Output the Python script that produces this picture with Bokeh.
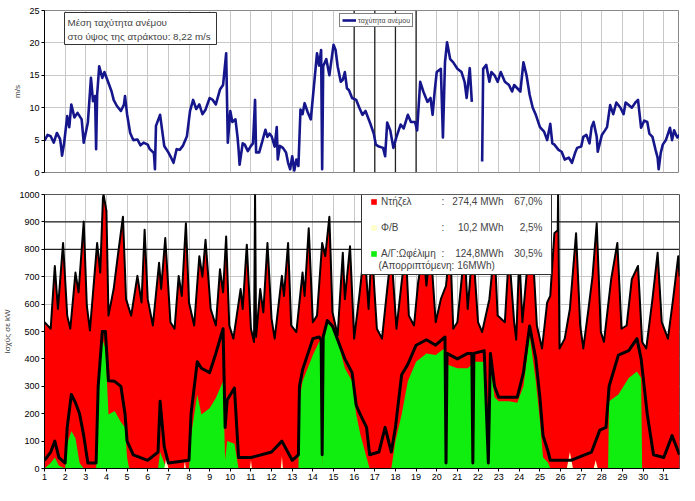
from bokeh.plotting import figure
from bokeh.layouts import column
from bokeh.models import Legend, LegendItem, Label, BoxAnnotation, Span, FixedTicker
from bokeh.embed import file_html
from bokeh.resources import INLINE

FONT = "Liberation Sans"
nan = float("nan")

# ---------------- data ----------------
day_ticks = list(range(1, 32))
speed_ticks = [0, 5, 10, 15, 20, 25]
power_ticks = list(range(0, 1001, 100))
marker_days = [16, 17, 18, 19]
ref_levels_kw = [800, 900]

wind_day = [1.0, 1.15, 1.3, 1.45, 1.6, 1.75, 1.8, 1.85, 1.95, 2.1, 2.2, 2.3, 2.45, 2.6, 2.8, 2.9,
            3.1, 3.25, 3.35, 3.45, 3.5, 3.55, 3.65, 3.8, 3.9, 4.1, 4.25, 4.35, 4.5, 4.7, 4.85, 4.9,
            5.0, 5.15, 5.3, 5.5, 5.65, 5.8, 6.0, 6.1, 6.3, 6.35, 6.4, 6.6, 6.7, 6.8, 7.0, 7.1,
            7.25, 7.4, 7.55, 7.7, 7.9, 8.05, 8.2, 8.35, 8.5, 8.65, 8.8, 9.0, 9.15, 9.3, 9.5, 9.65,
            9.8, 9.88, 9.95, 10.0, 10.1, 10.25, 10.35, 10.4, 10.45, 10.6, 10.7, 10.85, 11.0, 11.1,
            11.2, 11.25, 11.4, 11.55, 11.7, 11.8, 11.9, 12.0, 12.15, 12.25, 12.3, 12.4, 12.55, 12.7,
            12.8, 12.9, 13.0, 13.1, 13.2, 13.3, 13.4, 13.5, 13.6, 13.75, 13.9, 14.05, 14.2, 14.3,
            14.4, 14.45, 14.5, 14.65, 14.8, 15.0, 15.1, 15.2, 15.35, 15.45, 15.55, 15.65, 15.75,
            15.9, 16.1, 16.25, 16.4, 16.55, 16.8, 16.95, 17.05, 17.2, 17.4, 17.5, 17.6, 17.75, 17.9,
            18.05, 18.25, 18.4, 18.6, 18.75, 18.95, 19.05, 19.2, 19.35, 19.55, 19.7, 19.8, 19.9,
            20.0, 20.2, 20.3, 20.4, 20.5, 20.65, 20.8, 21.0, 21.2, 21.35, 21.45, 21.6, 21.7, 21.9,
            22.2, 22.25, 22.4, 22.55, 22.65, 22.8, 22.95, 23.1, 23.3, 23.5, 23.65, 23.75, 23.9,
            24.05, 24.2, 24.35, 24.5, 24.65, 24.8, 25.0, 25.2, 25.35, 25.5, 25.6, 25.7, 25.9, 26.05,
            26.2, 26.4, 26.55, 26.7, 26.8, 27.0, 27.1, 27.25, 27.4, 27.5, 27.6, 27.75, 27.8, 28.0,
            28.15, 28.25, 28.4, 28.55, 28.7, 28.9, 29.05, 29.15, 29.3, 29.45, 29.65, 29.75, 29.9,
            30.05, 30.2, 30.3, 30.45, 30.6, 30.7, 30.75, 30.85, 30.95, 31.1, 31.3, 31.4, 31.5,
            31.65, 31.76]
wind_speed = [4.9, 5.8, 5.6, 4.6, 6.1, 5.2, 4.1, 2.6, 4.5, 8.7, 7.0, 10.5, 8.5, 9.2, 8.2, 4.6,
              7.7, 14.6, 11.0, 11.8, 3.6, 12.0, 16.4, 14.6, 15.5, 13.8, 12.5, 11.2, 10.3, 9.5, 10.5, 11.8,
              9.0, 6.1, 5.0, 5.1, 4.2, 4.6, 4.3, 3.6, 3.0, 0.5, 7.2, 8.9, 6.5, 4.1, 3.1, 2.5,
              1.5, 3.6, 3.5, 4.1, 5.6, 9.5, 11.2, 9.8, 10.5, 9.0, 9.7, 11.5, 11.2, 10.5, 12.8, 13.5,
              18.4, 4.6, 7.5, 9.5, 7.8, 8.2, 5.5, 3.6, 1.2, 4.5, 4.3, 3.3, 4.1, 4.5,
              11.2, 3.1, 3.1, 4.8, 6.6, 5.5, 6.0, 5.6, 4.0, 7.0, 2.0, 4.1, 3.8, 3.1,
              1.5, 0.5, 2.5, 0.3, 2.0, 1.0, 9.7, 9.0, 10.7, 9.3, 8.2, 13.3, 18.4, 16.5,
              18.9, 0.5, 16.4, 17.5, 15.0, 19.7, 18.9, 16.4, 14.0, 14.3, 15.5, 13.0, 12.7,
              11.5, 11.2, 10.0, 8.9, 9.5, 7.4, 6.0, 4.3, 4.0, 3.8, 2.5, 7.7, 6.5, 3.8,
              5.5, 7.4, 6.8, 8.9, 7.8, 7.8, 6.5, 14.0, 12.5, 10.9, 11.5, 8.9, 12.5,
              15.5, 16.0, 5.4, 17.0, 20.1, 17.5, 17.0, 16.0, 15.5, 14.0, 11.5, 16.1, 10.9, nan,
              1.7, 16.0, 16.6, 14.0, 15.5, 15.0, 14.0, 15.5, 14.0, 13.5, 12.5, 13.5, 13.0,
              12.5, 17.0, 15.0, 12.0, 10.0, 8.9, 7.0, 6.3, 5.0, 7.5, 4.5, 4.3, 3.5, 3.2,
              2.0, 2.3, 1.5, 3.0, 3.8, 4.0, 5.5, 5.8, 4.5, 7.0, 7.8, 5.5, 3.2, 5.8,
              6.5, 7.0, 10.4, 9.0, 10.8, 10.0, 9.0, 10.8, 10.4, 10.0, 10.9, 11.2, 6.9,
              8.0, 7.8, 6.0, 5.5, 3.5, 2.3, 0.5, 3.0, 4.3, 5.0, 6.9, 5.0, 6.5,
              5.4, 5.8]

load_day = [1.0, 1.3, 1.5, 1.65, 1.9, 2.1, 2.25, 2.5, 2.65, 2.9, 3.05, 3.2, 3.55, 3.7, 3.83, 3.86,
            4.0, 4.1, 4.35, 4.55, 4.8, 4.95, 5.2, 5.5, 5.7, 5.85, 6.0, 6.25, 6.55, 6.65, 6.85, 7.1,
            7.3, 7.5, 7.65, 7.85, 8.0, 8.25, 8.5, 8.65, 8.8, 9.05, 9.3, 9.5, 9.65, 9.8, 9.95, 10.15,
            10.5, 10.6, 10.8, 11.0, 11.15, 11.2, 11.25, 11.45, 11.6, 11.8, 12.0, 12.15, 12.5, 12.6,
            12.8, 12.95, 13.2, 13.5, 13.6, 13.8, 14.0, 14.2, 14.45, 14.6, 14.8, 14.95, 15.2, 15.45,
            15.55, 15.8, 16.0, 16.25, 16.5, 16.7, 16.85, 17.1, 17.35, 17.6, 17.8, 18.05, 18.3, 18.5,
            18.65, 18.9, 19.1, 19.35, 19.5, 19.7, 19.95, 20.2, 20.45, 20.65, 20.8, 21.0, 21.35, 21.5,
            21.75, 22.0, 22.2, 22.55, 22.8, 22.95, 23.3, 23.5, 23.75, 23.85, 24.0, 24.15, 24.45, 24.7,
            24.85, 25.1, 25.35, 25.5, 25.7, 25.86, 25.88, 25.95, 26.2, 26.45, 26.75, 26.95, 27.1,
            27.35, 27.55, 27.75, 27.95, 28.1, 28.45, 28.75, 28.95, 29.2, 29.45, 29.75, 29.95, 30.15,
            30.45, 30.7, 30.9, 31.2, 31.45, 31.7, 31.76]
load_kw = [534, 510, 739, 582, 823, 558, 510, 715, 643, 901, 594, 504, 823, 715, 986, 1000,
           940, 558, 655, 775, 919, 618, 558, 703, 606, 871, 618, 522, 751, 655, 841, 534,
           510, 703, 630, 895, 606, 522, 775, 700, 835, 582, 522, 727, 643, 847, 522, 474,
           655, 582, 817, 510, 462, 1000, 480, 655, 570, 823, 546, 474, 703, 630,
           823, 522, 498, 715, 630, 877, 534, 558, 823, 775, 919, 570, 486, 787,
           618, 811, 474, 630, 800, 582, 810, 510, 474, 655, 790, 510, 679, 800,
           558, 522, 679, 800, 667, 810, 534, 618, 667, 820, 510, 534, 800, 582,
           815, 534, 498, 618, 805, 558, 534, 790, 534, 470, 780, 534, 790, 727,
           522, 438, 606, 630, 859, 870, 1000, 438, 474, 582, 859, 522, 438,
           582, 703, 895, 498, 462, 691, 823, 510, 522, 691, 739, 462, 438,
           618, 787, 534, 474, 618, 775, 700]

useful_day = [1.0, 1.3, 1.5, 1.7, 2.0, 2.1, 2.3, 2.5, 2.7, 2.9, 3.5, 3.6, 3.8, 3.95, 4.1, 4.4,
              4.7, 4.9, 5.0, 5.1, 6.5, 6.6, 6.8, 6.9, 8.0, 8.1, 8.4, 8.6, 9.0, 9.3, 9.65, 9.75,
              9.85, 10.2, 10.4, 13.3, 13.35, 13.5, 14.0, 14.3, 14.4, 14.45, 14.5, 14.7, 14.95, 15.3,
              15.55, 15.9, 16.1, 16.3, 16.6, 16.75, 17.8, 18.0, 18.3, 18.6, 19.0, 19.5, 19.95, 20.4,
              20.45, 20.5, 21.0, 21.5, 21.7, 21.75, 21.8, 22.3, 22.5, 22.6, 22.8, 23.0, 23.5, 23.9,
              24.2, 24.5, 24.8, 25.0, 25.15, 25.4, 25.5, 28.3, 28.35, 28.8, 29.3, 29.7, 29.9, 29.95,
              31.76]
useful_kw = [0, 20, 40, 10, 0, 90, 137, 110, 20, 0, 0, 250, 474, 438, 197, 210,
             170, 150, 40, 0, 0, 60, 20, 0, 0, 120, 270, 197, 220, 257, 318, 30,
             100, 90, 0, 0, 250, 318, 414, 462, 470, 0, 480, 534, 510, 438,
             366, 318, 197, 125, 40, 0, 0, 100, 197, 318, 390, 420, 414, 440,
             0, 380, 366, 366, 380, 0, 390, 390, 0, 380, 260, 245, 245, 240,
             300, 486, 318, 173, 41, 20, 0, 0, 245, 270, 330, 354, 330, 0,
             0]

avail_day = [1.0, 1.3, 1.5, 1.7, 2.0, 2.1, 2.3, 2.5, 2.7, 2.9, 3.1, 3.5, 3.6, 3.8, 3.95, 4.1,
             4.4, 4.7, 4.9, 5.0, 5.3, 6.0, 6.5, 6.6, 6.8, 7.0, 8.0, 8.1, 8.4, 8.6, 9.0, 9.3,
             9.65, 9.75, 9.85, 10.2, 10.4, 11.0, 12.0, 12.5, 13.0, 13.3, 13.35, 13.5, 14.0, 14.3,
             14.4, 14.45, 14.5, 14.7, 14.95, 15.3, 15.55, 15.9, 16.1, 16.3, 16.6, 16.75, 17.2, 17.5,
             17.8, 18.0, 18.3, 18.6, 19.0, 19.5, 19.95, 20.4, 20.45, 20.5, 21.0, 21.5, 21.7, 21.75,
             21.8, 22.3, 22.5, 22.6, 22.8, 23.0, 23.5, 23.9, 24.2, 24.5, 24.8, 25.0, 25.15, 25.4,
             25.5, 26.5, 27.5, 27.9, 28.2, 28.35, 28.8, 29.3, 29.7, 29.9, 30.2, 30.5, 31.0, 31.4,
             31.76]
avail_kw = [30, 60, 100, 40, 20, 150, 270, 240, 200, 120, 20, 20, 300, 500, 500, 320,
            318, 300, 200, 100, 50, 30, 60, 245, 80, 20, 30, 200, 390, 366, 350, 420,
            510, 150, 250, 294, 40, 40, 60, 100, 30, 50, 300, 360, 474, 480,
            470, 50, 480, 540, 520, 450, 400, 350, 230, 197, 150, 50, 60, 150,
            60, 150, 342, 380, 450, 470, 450, 480, 20, 420, 400, 420, 420, 20,
            420, 430, 20, 420, 300, 260, 260, 260, 350, 520, 400, 257, 120, 60,
            30, 30, 60, 140, 150, 300, 414, 430, 474, 400, 197, 50, 40, 120,
            50]

pv_day = [6.8, 6.9, 7.0, 7.75, 7.8, 7.85, 10.95, 11.0, 11.05, 12.45, 12.5, 12.55,
          26.3, 26.45, 26.6, 27.6, 27.7, 27.8]
pv_kw = [0, 40, 0, 0, 30, 0, 0, 30, 0, 0, 45, 0,
         0, 60, 0, 0, 30, 0]

# ---------------- figures ----------------
X_RANGE = (1, 31.76)
GRID = "#C8C8C8"
LEG_FS = "10px"


def style_axes(p):
    for ax in p.axis:
        ax.axis_line_color = "black"
        ax.major_tick_line_color = "black"
        ax.minor_tick_line_color = None
        ax.major_tick_out = 3
        ax.major_tick_in = 0
        ax.major_label_standoff = 2
        ax.major_label_text_font = FONT
        ax.major_label_text_font_size = "9px"
        ax.major_label_text_color = "black"
        ax.axis_label_text_font = FONT
        ax.axis_label_text_font_size = "8px"
        ax.axis_label_text_font_style = "normal"
        ax.axis_label_standoff = 4
    p.xgrid.grid_line_color = GRID
    p.ygrid.grid_line_color = GRID


p1 = figure(frame_width=635, frame_height=162, min_border_left=42, min_border_right=2,
            min_border_top=10, min_border_bottom=5, x_range=X_RANGE, y_range=(0, 25),
            output_backend="svg", toolbar_location=None)
p1.xaxis.ticker = FixedTicker(ticks=day_ticks)
p1.yaxis.ticker = FixedTicker(ticks=speed_ticks)
p1.yaxis.axis_label = "m/s"
style_axes(p1)
p1.xaxis.visible = False
p1.outline_line_color = "#888888"

for d in marker_days:
    p1.add_layout(Span(location=d, dimension="height", line_color="#222222",
                       line_width=1.3, level="underlay"))

r_wind = p1.line(wind_day, wind_speed, line_color="#16168C", line_width=2.6,
                 line_join="round")

p1.add_layout(BoxAnnotation(left=20, right=172, top=160, bottom=128,
                            left_units="screen", right_units="screen",
                            top_units="screen", bottom_units="screen",
                            fill_color="white", fill_alpha=1,
                            line_color="#333333", line_alpha=1, line_width=1))
p1.add_layout(Label(x=23, y=150, x_units="screen", y_units="screen",
                    text="Μέση ταχύτητα ανέμου", text_font=FONT,
                    text_font_size="9.8px", text_baseline="middle"))
p1.add_layout(Label(x=23, y=136, x_units="screen", y_units="screen",
                    text="στο ύψος της ατράκτου: 8,22 m/s", text_font=FONT,
                    text_font_size="9.8px", text_baseline="middle"))

leg1 = Legend(items=[LegendItem(label="ταχύτητα ανέμου", renderers=[r_wind])],
              location=(295, 145), padding=2, spacing=0, margin=0,
              glyph_width=14, glyph_height=8, label_height=8, label_standoff=2,
              label_text_font=FONT, label_text_font_size="7px",
              border_line_color="black", border_line_width=1,
              background_fill_color="white", background_fill_alpha=1)
p1.add_layout(leg1)

p2 = figure(frame_width=635, frame_height=274, min_border_left=42, min_border_right=2,
            min_border_top=17, min_border_bottom=0, x_range=X_RANGE, y_range=(0, 1000),
            output_backend="svg", toolbar_location=None)
p2.xaxis.ticker = FixedTicker(ticks=day_ticks)
p2.yaxis.ticker = FixedTicker(ticks=power_ticks)
p2.yaxis.axis_label = "Ισχύς σε kW"
style_axes(p2)
p2.outline_line_color = "#555555"

for lvl in ref_levels_kw:
    p2.add_layout(Span(location=lvl, dimension="width", line_color="#222222",
                       line_width=1.3, level="underlay"))

r_diesel = p2.varea(x=load_day, y1=0, y2=load_kw, fill_color="#FF0000")
r_useful = p2.varea(x=useful_day, y1=0, y2=useful_kw, fill_color="#10EE10")
r_pv = p2.varea(x=pv_day, y1=0, y2=pv_kw, fill_color="#FFFFCC")
p2.line(avail_day, avail_kw, line_color="black", line_width=3, line_join="round")
p2.line(load_day, load_kw, line_color="black", line_width=2, line_join="round")

# legend box (kept inside the frame so it is not clipped)
p2.add_layout(BoxAnnotation(left=317, right=507, top=274, bottom=194,
                            left_units="screen", right_units="screen",
                            top_units="screen", bottom_units="screen",
                            fill_color="white", fill_alpha=1,
                            line_color="#333333", line_alpha=1, line_width=1))
leg2 = Legend(items=[LegendItem(label="Ντήζελ", renderers=[r_diesel]),
                     LegendItem(label="Φ/Β", renderers=[r_pv]),
                     LegendItem(label="Α/Γ:Ωφέλιμη", renderers=[r_useful])],
              location=(326, 208), padding=0, spacing=13, margin=0,
              glyph_width=7, glyph_height=7, label_height=13, label_standoff=4,
              label_text_font=FONT, label_text_font_size=LEG_FS,
              border_line_alpha=0, background_fill_alpha=0)
p2.add_layout(leg2)

rows_y = [267, 241, 215]
energy_txt = ["274,4 MWh", "10,2 MWh", "124,8MWh"]
share_txt = ["67,0%", "2,5%", "30,5%"]
for yy, e, s in zip(rows_y, energy_txt, share_txt):
    p2.add_layout(Label(x=397, y=yy, x_units="screen", y_units="screen", text=":",
                        text_font=FONT, text_font_size=LEG_FS, text_baseline="middle"))
    p2.add_layout(Label(x=459, y=yy, x_units="screen", y_units="screen", text=e,
                        text_font=FONT, text_font_size=LEG_FS, text_baseline="middle",
                        text_align="right"))
    p2.add_layout(Label(x=498, y=yy, x_units="screen", y_units="screen", text=s,
                        text_font=FONT, text_font_size=LEG_FS, text_baseline="middle",
                        text_align="right"))
p2.add_layout(Label(x=334, y=203, x_units="screen", y_units="screen",
                    text="(Απορριπτόμενη: 16MWh)", text_font=FONT,
                    text_font_size=LEG_FS, text_baseline="middle"))

layout = column(p1, p2)
open("out.html", "w").write(file_html(layout, INLINE))
